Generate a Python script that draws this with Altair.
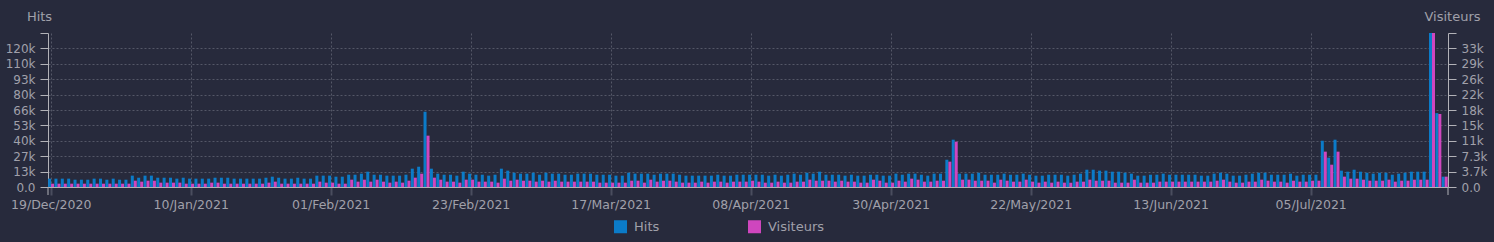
import altair as alt
import pandas as pd

# ---- data ----
START = "2020-12-19"
N_DAYS = 220
tick_labels = ["19/Dec/2020", "10/Jan/2021", "01/Feb/2021", "23/Feb/2021", "17/Mar/2021",
               "08/Apr/2021", "30/Apr/2021", "22/May/2021", "13/Jun/2021", "05/Jul/2021"]

hits = [
    7200, 7200, 7200, 7200, 6300, 6300, 6300, 7200, 7200, 6300,
    7200, 6300, 6300, 9800, 8000, 9800, 9800, 8000, 8000, 8000,
    7200, 8000, 7200, 7200, 7200, 7200, 8000, 8000, 8000, 7200,
    7200, 7200, 7200, 7200, 8000, 8900, 8000, 7200, 7200, 8000,
    7200, 7200, 9800, 9800, 9800, 8900, 8900, 10600, 10600, 11500,
    13200, 10600, 10600, 9800, 9800, 9800, 10600, 15800, 17500, 64900,
    15800, 11500, 10600, 10600, 9800, 13200, 11500, 10600, 10600, 9800,
    10600, 15800, 14100, 12300, 11500, 11500, 12300, 10600, 12300, 11500,
    11500, 10600, 10600, 11500, 11500, 11500, 10600, 10600, 10600, 9800,
    9800, 12300, 11500, 11500, 11500, 10600, 11500, 11500, 11500, 10600,
    9800, 9800, 9800, 9800, 9800, 10600, 9800, 9800, 10600, 10600,
    10600, 10600, 10600, 9800, 10600, 9800, 10600, 11500, 10600, 12300,
    11500, 13200, 10600, 10600, 10600, 9800, 10600, 9800, 9800, 10600,
    10600, 9800, 9800, 11500, 10600, 11500, 11500, 10600, 9800, 11500,
    11500, 23500, 40800, 11500, 11500, 11500, 12300, 10600, 10600, 10600,
    11500, 10600, 10600, 11500, 10600, 9800, 9800, 10600, 10600, 10600,
    9800, 10600, 11500, 14900, 14900, 14100, 14100, 13200, 13200, 12300,
    11500, 9800, 9800, 10600, 10600, 11500, 10600, 10600, 10600, 10600,
    10600, 9800, 9800, 11500, 12300, 11500, 9800, 9800, 10600, 11500,
    12300, 12300, 10600, 10600, 10600, 11500, 9800, 10600, 10600, 10600,
    39900, 25300, 40800, 14100, 13200, 14900, 13200, 12300, 11500, 12300,
    12300, 10600, 11500, 12300, 13200, 13200, 13200, 132800, 63700, 8900,
]

visitors = [
    790, 790, 790, 790, 790, 790, 790, 790, 790, 790,
    790, 790, 790, 1500, 1270, 1500, 1500, 1030, 1030, 1030,
    1030, 790, 790, 790, 790, 1030, 1030, 790, 790, 790,
    790, 790, 790, 790, 1030, 1270, 790, 790, 790, 790,
    790, 790, 1270, 1030, 1030, 790, 790, 1740, 1270, 1740,
    1270, 1740, 1270, 1030, 1270, 1030, 1500, 2220, 3170, 12200,
    2220, 1740, 1270, 1270, 1030, 1740, 1740, 1270, 1270, 1270,
    1030, 1980, 1500, 1740, 1500, 1500, 1270, 1500, 1270, 1500,
    1270, 1270, 1270, 1270, 1270, 1270, 1030, 1030, 1030, 1030,
    1030, 1500, 1500, 1030, 1740, 1270, 1500, 1500, 1270, 1030,
    1030, 1030, 1270, 1030, 1270, 1270, 1030, 1270, 1270, 1270,
    1500, 1270, 1030, 1030, 1270, 1030, 1030, 1270, 1270, 1740,
    1500, 1500, 1500, 1270, 1500, 1270, 1270, 1030, 1030, 1740,
    1500, 1030, 1030, 1500, 1270, 1980, 1740, 1270, 1270, 1500,
    1500, 6020, 10770, 1740, 1740, 1500, 1500, 1500, 1030, 1740,
    1500, 1270, 1270, 1740, 1270, 1030, 1270, 1030, 1270, 1030,
    1030, 1270, 1270, 1740, 1500, 1500, 1500, 1030, 1030, 1030,
    1740, 1030, 1030, 1030, 1270, 1270, 1270, 1270, 1270, 1270,
    1270, 1270, 1270, 1500, 1740, 1270, 1030, 1030, 1270, 1270,
    1740, 1500, 1270, 1270, 1030, 1500, 1270, 1270, 1500, 1500,
    8400, 5300, 8400, 2460, 1980, 1980, 1740, 1500, 1500, 1500,
    1740, 1270, 1500, 1500, 1740, 1740, 1740, 36600, 17350, 2460,
]

series_names = ["Hits", "Visiteurs"]
series_colors = ["#0b7bc8", "#cf46be"]

# ---- style ----
BG = "#272a3c"
TEXT = "#a0a0aa"
DOMAIN = "#b2b2b8"
GRID = "#545767"
XTICK = "#4a4d5e"
FONT = "DejaVu Sans"

dates = pd.date_range(START, periods=N_DAYS, freq="D")
day_labels = [d.strftime("%d/%b/%Y") for d in dates]
df = pd.DataFrame({"day": day_labels, "hits": hits, "visitors": visitors})

hmax = max(hits)
vmax = max(visitors)
hvals = [hmax * i / 10 for i in range(11)]
vvals = [vmax * i / 10 for i in range(11)]

x_enc = alt.X(
    "day:N", sort=None,
    scale=alt.Scale(paddingInner=0, paddingOuter=0),
    axis=alt.Axis(
        values=tick_labels, title=None, labelAngle=0, labelColor=TEXT, labelFontSize=12.5,
        labelPadding=3, tickSize=8, tickWidth=2, tickColor=XTICK, domainColor=DOMAIN,
        grid=True, gridColor=GRID, gridDash=[2, 2], gridWidth=1, labelFont=FONT,
    ),
)

color_scale = alt.Scale(domain=series_names, range=series_colors)
legend = alt.Legend(
    title=None, orient="none", legendX=566, legendY=187, direction="horizontal",
    symbolType="square", symbolSize=169, symbolStrokeWidth=0, labelFontSize=13,
    labelColor=TEXT, labelOffset=7, columnPadding=88, padding=0, labelFont=FONT,
)

left_axis = alt.Axis(
    values=hvals, format=".2s", orient="left",
    labelExpr=f"datum.value > {hmax * 0.95} ? '' : datum.label",
    title="Hits", titleAngle=0, titleX=-9, titleY=-13, titleAlign="center",
    titleBaseline="alphabetic", titleFontSize=13, titleFontWeight="normal", titleColor=TEXT,
    titleFont=FONT, labelFont=FONT, labelColor=TEXT, labelFontSize=12, labelPadding=5,
    tickSize=8, tickColor=DOMAIN, domainColor=DOMAIN, grid=True, gridColor=GRID,
    gridDash=[2, 2], gridOpacity={"condition": {"test": f"datum.value > {hmax * 0.95}", "value": 0}, "value": 1},
)
right_axis = alt.Axis(
    values=vvals, format=".2s", orient="right",
    labelExpr=f"datum.value > {vmax * 0.95} ? '' : datum.label",
    title="Visiteurs", titleAngle=0, titleX=4, titleY=-13, titleAlign="center",
    titleBaseline="alphabetic", titleFontSize=13, titleFontWeight="normal", titleColor=TEXT,
    titleFont=FONT, labelFont=FONT, labelColor=TEXT, labelFontSize=12, labelPadding=5,
    tickSize=8, tickColor=DOMAIN, domainColor=DOMAIN, grid=False,
)

base = alt.Chart(df)

bars_hits = base.transform_calculate(series="'Hits'").mark_bar(width=3, xOffset=-1.6).encode(
    x=x_enc,
    y=alt.Y("hits:Q", scale=alt.Scale(domain=[0, hmax], nice=False), axis=left_axis),
    color=alt.Color("series:N", scale=color_scale, legend=legend),
)
bars_vis = base.transform_calculate(series="'Visiteurs'").mark_bar(width=3, xOffset=1.4).encode(
    x=x_enc,
    y=alt.Y("visitors:Q", scale=alt.Scale(domain=[0, vmax], nice=False), axis=right_axis),
    color=alt.Color("series:N", scale=color_scale, legend=legend),
)

# outer ticks at both ends of the x-axis domain (decoration)
one_row = pd.DataFrame({"k": [0]})
edge_left = alt.Chart(one_row).mark_rule(color=DOMAIN, strokeWidth=1).encode(
    x=alt.value(0), y=alt.value(154), y2=alt.value(162))
edge_right = alt.Chart(one_row).mark_rule(color=DOMAIN, strokeWidth=1).encode(
    x=alt.value(1400), y=alt.value(154), y2=alt.value(162))

chart = (
    alt.layer(bars_hits, bars_vis, edge_left, edge_right)
    .resolve_scale(y="independent")
    .properties(
        width=1400, height=154,
        padding={"left": 48, "top": 33, "right": 46, "bottom": 55},
        autosize=alt.AutoSizeParams(type="none"),
    )
    .configure(background=BG, font=FONT)
    .configure_view(strokeWidth=0)
)

chart.save("out.html", embed_options={"renderer": "svg", "actions": False})
